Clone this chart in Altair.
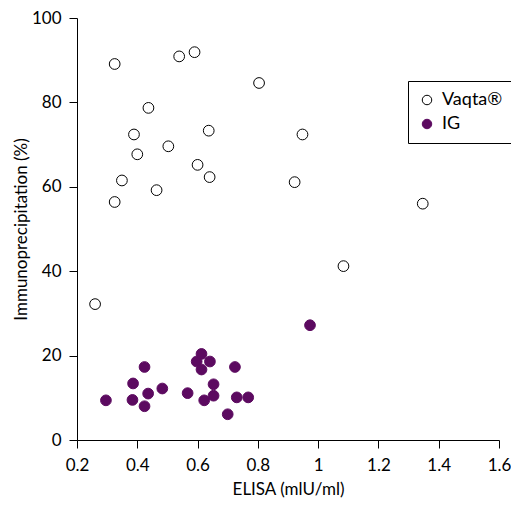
import altair as alt
import pandas as pd

vaqta_x = [0.260, 0.325, 0.325, 0.349, 0.389, 0.400, 0.437, 0.464, 0.503, 0.539,
           0.590, 0.600, 0.637, 0.640, 0.804, 0.922, 0.948, 1.084, 1.347]
vaqta_y = [32.2, 56.4, 89.1, 61.5, 72.4, 67.7, 78.7, 59.2, 69.6, 90.9,
           91.9, 65.2, 73.3, 62.3, 84.6, 61.1, 72.4, 41.2, 56.0]

ig_x = [0.296, 0.384, 0.386, 0.424, 0.424, 0.436, 0.483, 0.567, 0.597, 0.613,
        0.613, 0.641, 0.622, 0.653, 0.653, 0.700, 0.724, 0.730, 0.768, 0.973]
ig_y = [9.4, 9.5, 13.4, 17.3, 8.0, 11.0, 12.2, 11.1, 18.6, 20.4,
        16.7, 18.6, 9.4, 13.2, 10.5, 6.1, 17.3, 10.1, 10.1, 27.2]

groups = ["Vaqta®", "IG"]
fills = ["white", "#5c0a60"]
strokes = ["black", "#5c0a60"]

df = pd.concat([
    pd.DataFrame({"x": vaqta_x, "y": vaqta_y, "group": groups[0]}),
    pd.DataFrame({"x": ig_x, "y": ig_y, "group": groups[1]}),
])

FONT = "Lato"

legend = alt.Legend(
    title=None, orient="none", legendX=331, legendY=63,
    strokeColor="black", padding=10, labelFontSize=18, labelFont=FONT,
    labelColor="black", symbolSize=90, symbolStrokeWidth=1, rowPadding=6,
    labelOffset=6,
)

chart = alt.Chart(df).mark_point(shape="circle", size=115, strokeWidth=1, opacity=1, filled=False).encode(
    x=alt.X("x:Q", scale=alt.Scale(domain=[0.2, 1.6], nice=False),
            axis=alt.Axis(values=[0.2, 0.4, 0.6, 0.8, 1.0, 1.2, 1.4, 1.6], format="~g",
                          title="ELISA (mlU/ml)", labelFlush=False)),
    y=alt.Y("y:Q", scale=alt.Scale(domain=[0, 100], nice=False),
            axis=alt.Axis(values=[0, 20, 40, 60, 80, 100], title="Immunoprecipitation (%)",
                          labelFlush=False)),
    fill=alt.Fill("group:N", scale=alt.Scale(domain=groups, range=fills), legend=legend, sort=groups),
    stroke=alt.Stroke("group:N", scale=alt.Scale(domain=groups, range=strokes), legend=legend, sort=groups),
).properties(
    width=422, height=422,
    autosize=alt.AutoSizeParams(type="none"),
    padding={"left": 69, "top": 10, "right": 12, "bottom": 60},
).configure_view(stroke=None).configure_axis(
    grid=False, domainColor="black", tickColor="black", tickSize=8,
    labelFont=FONT, labelFontSize=17, labelColor="black",
    titleFont=FONT, titleFontSize=17, titleColor="black", titleFontWeight="normal",
).configure_axisX(labelPadding=9, titlePadding=8).configure_axisY(labelPadding=8, titlePadding=1)

chart.save("out.html", embed_options={"renderer": "svg", "actions": False})
